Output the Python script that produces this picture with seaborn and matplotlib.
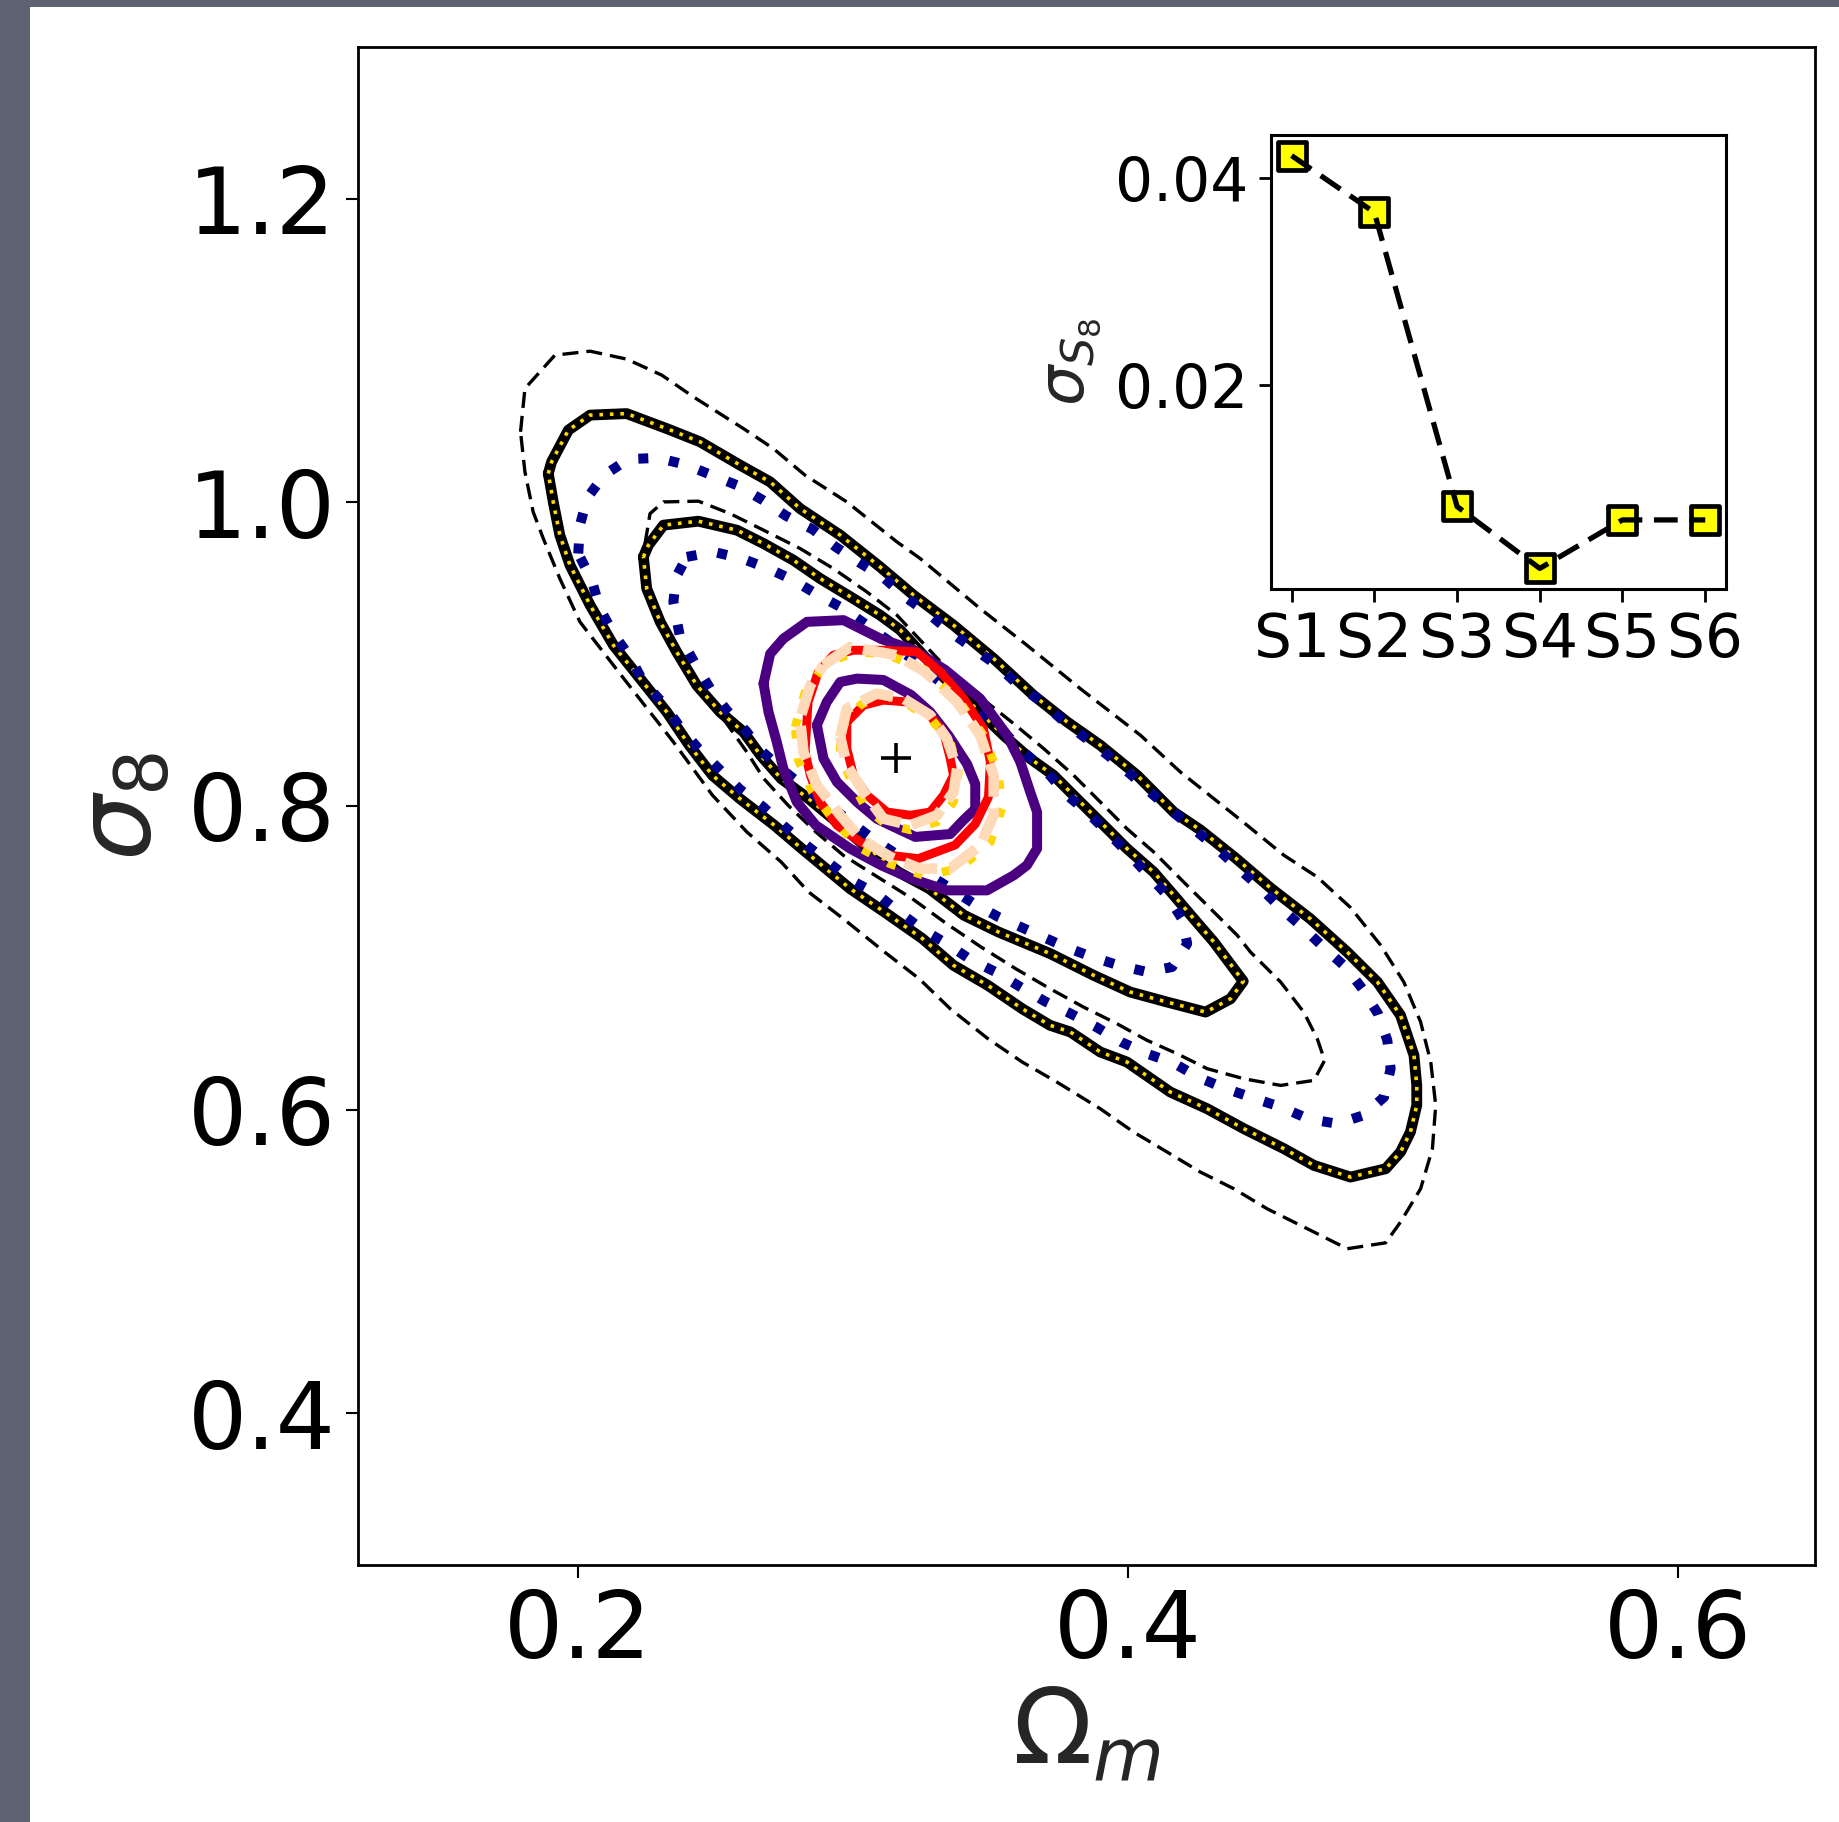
import numpy as np
import pandas as pd
import matplotlib
matplotlib.use("Agg")
import matplotlib.pyplot as plt
from matplotlib.patches import Rectangle
import seaborn as sns

# ---------------- data ----------------
# fiducial cosmology marker
FID_OM = [0.3156]
FID_S8 = [0.8313]

# black thin dashed contours (95% / 68%)
BD95_om = [0.1791,0.1807,0.1916,0.2044,0.2177,0.2305,0.2420,0.2602,0.2711,0.2826,0.2978,0.3160,0.3245,0.3463,0.3633,0.3827,0.4046,0.4191,0.4410,0.4568,0.4689,0.4810,0.4920,0.5004,0.5065,0.5102,0.5120,0.5108,0.5065,0.4992,0.4938,0.4798,0.4665,0.4507,0.4386,0.4264,0.4143,0.4021,0.3900,0.3742,0.3616,0.3491,0.3354,0.3241,0.3115,0.2965,0.2839,0.2739,0.2614,0.2489,0.2347,0.2214,0.2129,0.2007,0.1934,0.1874,0.1837,0.1807]
BD95_s8 = [1.0465,1.0750,1.0970,1.0996,1.0944,1.0838,1.0695,1.0486,1.0354,1.0179,1.0003,0.9740,0.9630,0.9300,0.9059,0.8773,0.8466,0.8224,0.7908,0.7675,0.7532,0.7331,0.7082,0.6840,0.6577,0.6313,0.6028,0.5742,0.5478,0.5259,0.5122,0.5083,0.5204,0.5346,0.5478,0.5588,0.5720,0.5852,0.6005,0.6181,0.6313,0.6467,0.6664,0.6862,0.7038,0.7257,0.7433,0.7631,0.7829,0.8071,0.8422,0.8729,0.8927,0.9213,0.9498,0.9761,0.9937,1.0201]
BD68_om = [0.2244,0.2262,0.2311,0.2438,0.2553,0.2675,0.2808,0.2929,0.3051,0.3160,0.3342,0.3463,0.3585,0.3694,0.3803,0.3900,0.3997,0.4094,0.4191,0.4301,0.4398,0.4446,0.4556,0.4640,0.4689,0.4716,0.4677,0.4556,0.4422,0.4289,0.4179,0.4070,0.3961,0.3839,0.3717,0.3592,0.3466,0.3341,0.3216,0.3090,0.2965,0.2865,0.2764,0.2676,0.2614,0.2524,0.2444,0.2371,0.2309,0.2258]
BD68_s8 = [0.9729,0.9926,1.0003,1.0008,0.9926,0.9817,0.9696,0.9564,0.9410,0.9257,0.8905,0.8718,0.8542,0.8378,0.8202,0.8026,0.7850,0.7697,0.7521,0.7323,0.7148,0.7038,0.6840,0.6642,0.6467,0.6324,0.6192,0.6159,0.6203,0.6269,0.6368,0.6456,0.6565,0.6675,0.6796,0.6928,0.7071,0.7224,0.7389,0.7532,0.7675,0.7829,0.8005,0.8180,0.8356,0.8586,0.8778,0.8975,0.9180,0.9410]

# black solid (gold dotted overlay) contours
BS95_om = [0.1892,0.1904,0.1965,0.2044,0.2177,0.2323,0.2444,0.2590,0.2699,0.2808,0.2954,0.3099,0.3221,0.3366,0.3512,0.3657,0.3779,0.3900,0.4034,0.4167,0.4264,0.4392,0.4519,0.4665,0.4798,0.4908,0.4992,0.5041,0.5051,0.5051,0.5028,0.4992,0.4938,0.4810,0.4677,0.4568,0.4422,0.4289,0.4155,0.3997,0.3900,0.3791,0.3717,0.3616,0.3491,0.3366,0.3253,0.3115,0.2990,0.2902,0.2814,0.2714,0.2589,0.2489,0.2404,0.2323,0.2226,0.2129,0.2044,0.1971,0.1934,0.1910]
BS95_s8 = [1.0190,1.0267,1.0476,1.0575,1.0585,1.0486,1.0399,1.0245,1.0135,0.9959,0.9784,0.9575,0.9388,0.9191,0.8971,0.8729,0.8554,0.8400,0.8202,0.7960,0.7842,0.7657,0.7460,0.7255,0.7038,0.6840,0.6621,0.6357,0.6159,0.6028,0.5852,0.5720,0.5610,0.5555,0.5632,0.5742,0.5874,0.6005,0.6115,0.6313,0.6379,0.6511,0.6555,0.6664,0.6818,0.6950,0.7126,0.7301,0.7455,0.7587,0.7719,0.7873,0.8048,0.8202,0.8402,0.8619,0.8839,0.9059,0.9323,0.9586,0.9784,1.0003]
BS68_om = [0.2238,0.2256,0.2311,0.2438,0.2578,0.2675,0.2784,0.2881,0.3002,0.3099,0.3172,0.3318,0.3548,0.3645,0.3730,0.3827,0.3925,0.3997,0.4094,0.4167,0.4240,0.4313,0.4420,0.4374,0.4283,0.4143,0.4009,0.3876,0.3718,0.3529,0.3404,0.3278,0.3165,0.3027,0.2927,0.2839,0.2739,0.2664,0.2602,0.2517,0.2432,0.2359,0.2299,0.2250]
BS68_s8 = [0.9641,0.9718,0.9850,0.9876,0.9817,0.9729,0.9619,0.9498,0.9366,0.9257,0.9160,0.8870,0.8466,0.8312,0.8202,0.8026,0.7850,0.7719,0.7565,0.7412,0.7257,0.7104,0.6845,0.6730,0.6642,0.6708,0.6774,0.6884,0.7027,0.7170,0.7280,0.7455,0.7565,0.7763,0.7916,0.8048,0.8180,0.8334,0.8488,0.8619,0.8795,0.9015,0.9213,0.9432]

# navy dotted contours
ND95_om = [0.2001,0.2007,0.2034,0.2095,0.2183,0.2290,0.2390,0.2487,0.2584,0.2672,0.2757,0.2853,0.2937,0.3024,0.3111,0.3190,0.3275,0.3354,0.3439,0.3524,0.3603,0.3688,0.3767,0.3846,0.3931,0.4012,0.4088,0.4167,0.4246,0.4325,0.4404,0.4483,0.4556,0.4634,0.4713,0.4792,0.4853,0.4910,0.4944,0.4956,0.4932,0.4857,0.4762,0.4656,0.4558,0.4456,0.4358,0.4261,0.4167,0.4070,0.3976,0.3885,0.3793,0.3698,0.3610,0.3519,0.3426,0.3341,0.3249,0.3168,0.3086,0.2994,0.2912,0.2831,0.2749,0.2674,0.2589,0.2514,0.2438,0.2371,0.2305,0.2238,0.2189,0.2129,0.2080,0.2050]
ND95_s8 = [0.9663,0.9850,1.0030,1.0179,1.0285,1.0293,1.0249,1.0179,1.0109,1.0015,0.9911,0.9823,0.9707,0.9603,0.9506,0.9377,0.9267,0.9147,0.9037,0.8927,0.8795,0.8685,0.8558,0.8448,0.8329,0.8206,0.8081,0.7956,0.7840,0.7719,0.7587,0.7460,0.7328,0.7203,0.7068,0.6939,0.6796,0.6631,0.6456,0.6269,0.6082,0.5962,0.5906,0.5939,0.6016,0.6076,0.6137,0.6208,0.6306,0.6368,0.6445,0.6544,0.6631,0.6713,0.6807,0.6906,0.6990,0.7093,0.7191,0.7301,0.7422,0.7510,0.7626,0.7741,0.7868,0.7993,0.8110,0.8242,0.8378,0.8521,0.8685,0.8817,0.8982,0.9135,0.9300,0.9487]
ND68_om = [0.2396,0.2493,0.2596,0.2693,0.2784,0.2875,0.2966,0.3051,0.3136,0.3318,0.3427,0.3548,0.3621,0.3706,0.3779,0.3852,0.3925,0.3997,0.4070,0.4143,0.4197,0.4216,0.4161,0.4070,0.3967,0.3870,0.3773,0.3627,0.3529,0.3441,0.3318,0.3190,0.3063,0.2954,0.2845,0.2754,0.2663,0.2614,0.2541,0.2481,0.2426,0.2371,0.2347,0.2357]
ND68_s8 = [0.9641,0.9674,0.9630,0.9564,0.9487,0.9388,0.9300,0.9191,0.9081,0.8817,0.8652,0.8488,0.8356,0.8224,0.8071,0.7960,0.7829,0.7697,0.7554,0.7412,0.7257,0.7093,0.6939,0.6906,0.6950,0.7005,0.7071,0.7189,0.7269,0.7356,0.7499,0.7644,0.7796,0.7947,0.8092,0.8224,0.8369,0.8488,0.8631,0.8773,0.8938,0.9114,0.9344,0.9509]

# indigo solid contours
PU95_om = [0.2675,0.2699,0.2747,0.2833,0.2966,0.3103,0.3221,0.3336,0.3463,0.3561,0.3609,0.3645,0.3670,0.3670,0.3633,0.3585,0.3488,0.3342,0.3216,0.3103,0.2990,0.2865,0.2796,0.2747,0.2723,0.2693]
PU95_s8 = [0.8806,0.9002,0.9102,0.9213,0.9224,0.9100,0.9028,0.8896,0.8707,0.8466,0.8290,0.8092,0.7960,0.7719,0.7609,0.7543,0.7444,0.7444,0.7519,0.7609,0.7719,0.7873,0.8026,0.8246,0.8422,0.8619]
PU68_om = [0.2869,0.2905,0.2954,0.3015,0.3111,0.3212,0.3281,0.3347,0.3415,0.3445,0.3445,0.3403,0.3354,0.3227,0.3136,0.3087,0.3015,0.2942,0.2893]
PU68_s8 = [0.8532,0.8685,0.8817,0.8839,0.8830,0.8731,0.8619,0.8466,0.8277,0.8145,0.7980,0.7908,0.7815,0.7796,0.7873,0.7916,0.8026,0.8158,0.8312]

# red solid contours
RE95_om = [0.2826,0.2837,0.2874,0.2929,0.3002,0.3111,0.3233,0.3318,0.3403,0.3475,0.3500,0.3493,0.3445,0.3372,0.3238,0.3136,0.3027,0.2942,0.2881,0.2845]
RE95_s8 = [0.8356,0.8685,0.8883,0.8993,0.9026,0.9026,0.9015,0.8883,0.8707,0.8509,0.8290,0.8059,0.7881,0.7743,0.7653,0.7675,0.7763,0.7873,0.8026,0.8202]
RE68_om = [0.2978,0.3039,0.3111,0.3197,0.3269,0.3330,0.3354,0.3366,0.3330,0.3281,0.3209,0.3124,0.3051,0.3002,0.2978]
RE68_s8 = [0.8553,0.8664,0.8697,0.8685,0.8619,0.8488,0.8312,0.8202,0.8071,0.7960,0.7939,0.7960,0.8071,0.8202,0.8378]

# peach dashed contours
PE95_om = [0.2893,0.2990,0.3160,0.3263,0.3379,0.3463,0.3512,0.3512,0.3463,0.3354,0.3245,0.3136,0.3027,0.2954,0.2869,0.2820,0.2808,0.2845]
PE95_s8 = [0.8927,0.9048,0.8993,0.8883,0.8685,0.8466,0.8202,0.7939,0.7741,0.7587,0.7587,0.7664,0.7785,0.7939,0.8136,0.8356,0.8575,0.8795]
PE68_om = [0.2954,0.2978,0.3087,0.3184,0.3281,0.3342,0.3379,0.3366,0.3306,0.3209,0.3111,0.3039,0.2978]
PE68_s8 = [0.8455,0.8641,0.8740,0.8707,0.8598,0.8444,0.8246,0.8092,0.7939,0.7873,0.7916,0.8092,0.8268]

# gold dotted contours
GO95_om = [0.2790,0.2826,0.2899,0.3008,0.3118,0.3263,0.3383,0.3474,0.3529,0.3544,0.3500,0.3391,0.3263,0.3136,0.3019,0.2936,0.2852,0.2801]
GO95_s8 = [0.8520,0.8751,0.8936,0.9015,0.9002,0.8896,0.8698,0.8468,0.8211,0.7993,0.7763,0.7591,0.7539,0.7618,0.7730,0.7895,0.8092,0.8303]
GO68_om = [0.2954,0.3027,0.3099,0.3197,0.3288,0.3354,0.3384,0.3366,0.3306,0.3209,0.3118,0.3045,0.2990,0.2954]
GO68_s8 = [0.8509,0.8664,0.8740,0.8674,0.8565,0.8422,0.8224,0.8026,0.7895,0.7842,0.7881,0.7993,0.8180,0.8334]

# inset: error on S8 per setup
SETUPS = ["S1", "S2", "S3", "S4", "S5", "S6"]
SIGMA_S8 = [0.0422, 0.0367, 0.0082, 0.0022, 0.0069, 0.0069]

# ---------------- style ----------------
sns.set_style("ticks", rc={"axes.edgecolor": "black", "xtick.color": "black",
                           "ytick.color": "black", "axes.linewidth": 2.0})
plt.rcParams["font.family"] = ["DejaVu Sans"]
plt.rcParams["mathtext.fontset"] = "dejavusans"

W, H = 1839, 1822
fig = plt.figure(figsize=(W / 100, H / 100), dpi=100, facecolor="white")
# dark screenshot border on the left and top
fig.patches.append(Rectangle((0, 0), 30 / W, 1, transform=fig.transFigure,
                             facecolor="#5c6270", edgecolor="none"))
fig.patches.append(Rectangle((0, 1 - 7 / H), 1, 7 / H, transform=fig.transFigure,
                             facecolor="#5c6270", edgecolor="none"))

ax = fig.add_axes([0.1947, 0.1411, 0.7923, 0.8331])
ax.set_facecolor("white")


def contour(xs, ys, **kw):
    n = min(len(xs), len(ys))
    px = list(xs[:n]) + [xs[0]]
    py = list(ys[:n]) + [ys[0]]
    sns.lineplot(x=px, y=py, sort=False, estimator=None, ax=ax, **kw)


for xs, ys in [(BD95_om, BD95_s8), (BD68_om, BD68_s8)]:
    contour(xs, ys, color="black", lw=2.4, linestyle=(0, (4.8, 2.4)), zorder=2)

for xs, ys in [(BS95_om, BS95_s8), (BS68_om, BS68_s8)]:
    contour(xs, ys, color="black", lw=7.8, linestyle="-", zorder=3)
    contour(xs, ys, color="gold", lw=2.6, linestyle=(0, (1, 1.9)), zorder=3.1)

for xs, ys in [(ND95_om, ND95_s8), (ND68_om, ND68_s8)]:
    contour(xs, ys, color="#00008B", lw=7.2, linestyle=(0, (1, 2.1)), zorder=4)

for xs, ys in [(PU95_om, PU95_s8), (PU68_om, PU68_s8)]:
    contour(xs, ys, color="#4B0082", lw=7.2, linestyle="-", zorder=5)

for xs, ys in [(RE95_om, RE95_s8), (RE68_om, RE68_s8)]:
    contour(xs, ys, color="red", lw=6.4, linestyle="-", zorder=6)

for xs, ys in [(GO95_om, GO95_s8), (GO68_om, GO68_s8)]:
    contour(xs, ys, color="gold", lw=6.2, linestyle=(0, (1, 2.3)), zorder=7)

for xs, ys in [(PE95_om, PE95_s8), (PE68_om, PE68_s8)]:
    contour(xs, ys, color="peachpuff", lw=7.6, linestyle=(0, (3.2, 1.1)), zorder=8)

sns.scatterplot(x=FID_OM, y=FID_S8, marker="+", s=440, color="black",
                linewidth=2.6, ax=ax, zorder=9)

ax.set_xlim(0.12, 0.65)
ax.set_ylim(0.3, 1.3)
ax.set_xticks([0.2, 0.4, 0.6])
ax.set_yticks([0.4, 0.6, 0.8, 1.0, 1.2])
ax.set_xticklabels(["0.2", "0.4", "0.6"])
ax.set_yticklabels(["0.4", "0.6", "0.8", "1.0", "1.2"])
ax.tick_params(labelsize=67, length=9, width=1.5, pad=7)
ax.set_xlabel(r"$\Omega_m$", fontsize=75, labelpad=6)
ax.set_ylabel(r"$\sigma_8$", fontsize=75, labelpad=10)
for s in ax.spines.values():
    s.set_linewidth(2.0)
    s.set_visible(True)

# ---------------- inset ----------------
axin = fig.add_axes([0.6911, 0.6767, 0.2474, 0.2492])
axin.set_facecolor("white")
df = pd.DataFrame({"setup": SETUPS, "sigma": SIGMA_S8})
sns.scatterplot(data=df, x="setup", y="sigma", marker="s", s=380,
                color="yellow", edgecolor="black", linewidth=3.4,
                ax=axin, zorder=2)
sns.lineplot(data=df, x="setup", y="sigma", sort=False, color="black",
             lw=3.8, linestyle=(0, (4.5, 2.2)), ax=axin, zorder=3)
axin.set_yticks([0.02, 0.04])
axin.set_yticklabels(["0.02", "0.04"])
axin.tick_params(labelsize=43, length=9, width=2.0, pad=7)
axin.set_xlabel("")
axin.set_ylabel(r"$\sigma_{S_8}$", fontsize=46, labelpad=8)
for s in axin.spines.values():
    s.set_linewidth(2.2)
    s.set_visible(True)

fig.savefig("out.png", dpi=100, facecolor=fig.get_facecolor())
